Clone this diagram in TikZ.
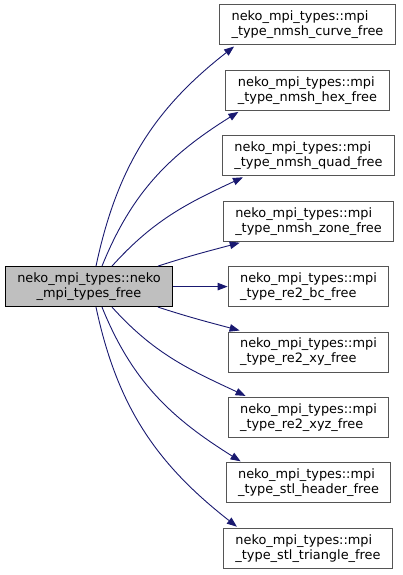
\documentclass[tikz,border=0pt]{standalone}
\usepackage{fontspec}
\setmainfont{DejaVu Sans}
\usetikzlibrary{arrows.meta}
\definecolor{edgeblue}{HTML}{191970}
\definecolor{boxgrey}{HTML}{BFBFBF}
\definecolor{boxline}{HTML}{555555}
\begin{document}
\begin{tikzpicture}[x=1pt,y=1pt,
  every node/.style={font=\fontsize{12.9}{15}\selectfont},
  mainbox/.style={draw=black, fill=boxgrey, line width=1pt, inner xsep=12pt, minimum height=40pt, align=center},
  funcbox/.style={draw=boxline, fill=white, line width=1pt, inner xsep=12pt, minimum height=40pt, align=left},
  callarrow/.style={draw=edgeblue, line width=0.9pt, -{Triangle[length=10pt,width=7.5pt]}}
]
\useasboundingbox (0,0) rectangle (403,-575);

\node[mainbox] (L) at (89,-286.6) {neko\_mpi\_types::neko\\\_mpi\_types\_free};

\node[funcbox] (R1) at (307.5,-25)    {neko\_mpi\_types::mpi\\\_type\_nmsh\_curve\_free};
\node[funcbox] (R2) at (307.5,-90.4)  {neko\_mpi\_types::mpi\\\_type\_nmsh\_hex\_free};
\node[funcbox] (R3) at (308.5,-155.8) {neko\_mpi\_types::mpi\\\_type\_nmsh\_quad\_free};
\node[funcbox] (R4) at (308.5,-221.2) {neko\_mpi\_types::mpi\\\_type\_nmsh\_zone\_free};
\node[funcbox] (R5) at (308.5,-286.6) {neko\_mpi\_types::mpi\\\_type\_re2\_bc\_free};
\node[funcbox] (R6) at (308.5,-352)   {neko\_mpi\_types::mpi\\\_type\_re2\_xy\_free};
\node[funcbox] (R7) at (308.5,-417.4) {neko\_mpi\_types::mpi\\\_type\_re2\_xyz\_free};
\node[funcbox] (R8) at (308.5,-482.8) {neko\_mpi\_types::mpi\\\_type\_stl\_header\_free};
\node[funcbox] (R9) at (308,-548.2)   {neko\_mpi\_types::mpi\\\_type\_stl\_triangle\_free};

% upper edges
\draw[callarrow] ([xshift=7pt]L.north)  to[out=78,in=218] ([xshift=15pt,yshift=-1pt]R1.south west);
\draw[callarrow] ([xshift=13pt]L.north) to[out=68,in=212] ([xshift=13pt,yshift=-1pt]R2.south west);
\draw[callarrow] ([xshift=23pt]L.north) to[out=48,in=205] ([xshift=21pt,yshift=-1pt]R3.south west);
\draw[callarrow] ([xshift=69pt]L.north) to[out=18,in=195] ([xshift=17pt,yshift=-1pt]R4.south west);
% middle edge
\draw[callarrow] (L.east) -- (R5.west);
% lower edges
\draw[callarrow] ([xshift=69pt]L.south) to[out=-18,in=165] ([xshift=12pt,yshift=1pt]R6.north west);
\draw[callarrow] ([xshift=23pt]L.south) to[out=-48,in=155] ([xshift=18pt,yshift=1pt]R7.north west);
\draw[callarrow] ([xshift=13pt]L.south) to[out=-68,in=148] ([xshift=15pt,yshift=1pt]R8.north west);
\draw[callarrow] ([xshift=7pt]L.south)  to[out=-78,in=142] ([xshift=14pt,yshift=1pt]R9.north west);
\end{tikzpicture}
\end{document}
